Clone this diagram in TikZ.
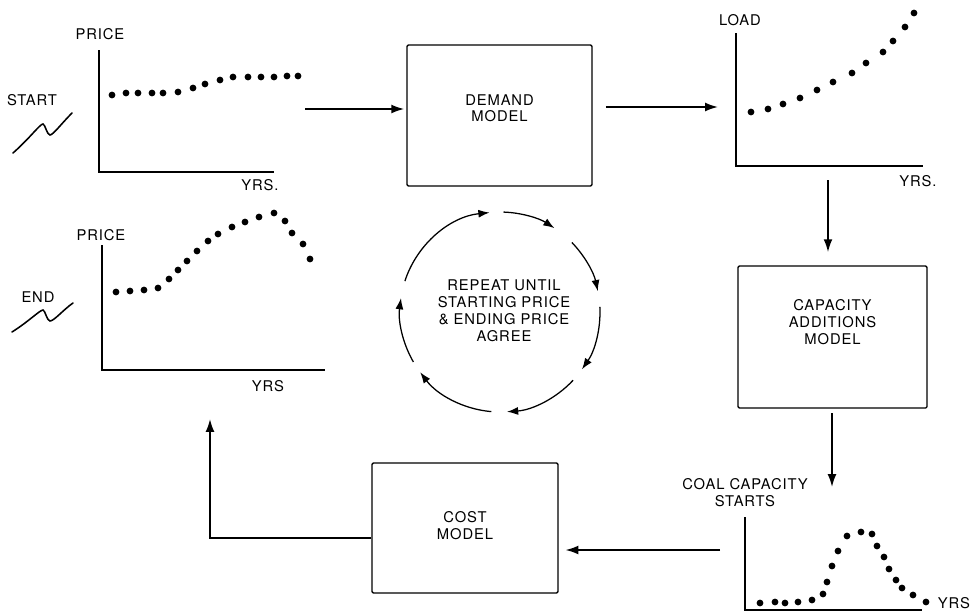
\documentclass[tikz,border=0pt]{standalone}
\usepackage{fontspec}
\setmainfont{TeX Gyre Heros}[LetterSpace=6]
\usepackage{tikz}
\usetikzlibrary{arrows.meta,positioning,calc}

\begin{document}
\begin{tikzpicture}[x=0.025cm,y=-0.025cm,
    box/.style={draw,line width=0.9pt,rounded corners=1pt},
    txt/.style={font=\fontsize{10.5}{12}\selectfont,align=center,inner sep=0pt},
    axis/.style={line width=1.3pt},
    flow/.style={line width=1.2pt,-{Latex[length=0.32cm,width=0.22cm]}},
    loop/.style={line width=0.9pt,-{Latex[length=0.28cm,width=0.2cm]}},
    squig/.style={line width=1.1pt,line cap=round}]
    \useasboundingbox (0,0) rectangle (976,613);

    \node[box,minimum width=4.625cm,minimum height=3.525cm] (dem) at (499.5,115.5) {};
    \node[box,minimum width=4.725cm,minimum height=3.55cm] (cap) at (832.5,337) {};
    \node[box,minimum width=4.65cm,minimum height=3.25cm] (cost) at (465,528) {};
    \node[txt] (demt) at ([yshift=0.18cm]dem.center) {DEMAND\\MODEL};
    \node[txt] (capt) at ([yshift=0.37cm]cap.center) {CAPACITY\\ADDITIONS\\MODEL};
    \node[txt] (costt) at ([yshift=0.07cm]cost.center) {COST\\MODEL};

    \node[txt] (st) at (32,100) {START};
    \node[txt] (p1) at (100,34) {PRICE};
    \node[txt] (y1) at (260,185) {YRS.};
    \draw[axis] (99,50) |- (274,172);
    \draw[squig] (13,153) .. controls (30,138) and (40,124) .. (43,124) .. controls (45,124) and (47,135) .. (50,135) .. controls (53,135) and (62,123) .. (72,113);
    \foreach \x/\y in {112/95,126/93,138/93,152/93,163/93,178/92,193/88,205/84,220/80,233/77,248/77,261/77,274/77,287/76,298/76}
        \fill (\x,\y) circle[radius=0.085cm];

    \node[txt] (ld) at (740,20) {LOAD};
    \node[txt] (y3) at (918,181) {YRS.};
    \draw[axis] (736,33) |- (923,166);
    \foreach \x/\y in {751/112,768/109,783/104,800/98,817/90,833/82,852/73,866/63,883/52,893/41,905/27,914/13}
        \fill (\x,\y) circle[radius=0.085cm];

    \node[txt] (cc) at (745,493) {COAL CAPACITY\\STARTS};
    \node[txt] (y4) at (954,603) {YRS};
    \draw[axis] (745,517) |- (922,610);
    \foreach \x/\y in {760/603,775/602,785/603,798/602,812/600,823/594,827/582,832/566,838/551,847/536,861/532,872/534,877/546,884/557,889/569,896/580,902/588,913/595,926/602}
        \fill (\x,\y) circle[radius=0.085cm];

    \node[txt] (en) at (38,297) {END};
    \node[txt] (p2) at (101,235) {PRICE};
    \node[txt] (y2) at (268,386) {YRS};
    \draw[axis] (102,245) |- (325,370);
    \draw[squig] (12,332) .. controls (28,322) and (40,310) .. (43,310) .. controls (45,310) and (47,321) .. (50,321) .. controls (54,321) and (63,310) .. (73,303);
    \foreach \x/\y in {116/292,130/291,144/290,158/288,169/279,178/270,187/261,197/251,208/241,218/234,232/227,245/222,259/217,274/213,285/221,292/233,303/244,310/259}
        \fill (\x,\y) circle[radius=0.085cm];

    \coordinate (s1) at (305,109);
    \coordinate (l1) at (718,107);
    \coordinate (l2) at (828,180);
    \coordinate (c1) at (832,487);
    \coordinate (c2) at (720,550);
    \coordinate (e1) at (210,419);
    \draw[flow,shorten >=1.5pt] (s1) -- (s1 -| dem.west);
    \draw[flow,shorten <=0.33cm] (dem.east |- l1) -- (l1);
    \draw[flow,shorten >=0.33cm] (l2) -- (l2 |- cap.north);
    \draw[flow,shorten <=0.12cm] (cap.south -| c1) -- (c1);
    \draw[flow,shorten >=0.17cm] (c2) -- (c2 -| cost.east);
    \draw[flow] ([yshift=-0.25cm]cost.west) -| (e1);

    \coordinate (rc) at (500,312);
    \node[txt] (rep) at (504,311) {REPEAT UNTIL\\STARTING PRICE\\\& ENDING PRICE\\AGREE};
    \foreach \a/\b in {-162/-96,-88/-57,-44/-12,-3/35,43/86,95/143,150/188}
        \draw[loop] (rc) ++(\a:100) arc[start angle=\a,end angle=\b,radius=100];
\end{tikzpicture}
\end{document}
